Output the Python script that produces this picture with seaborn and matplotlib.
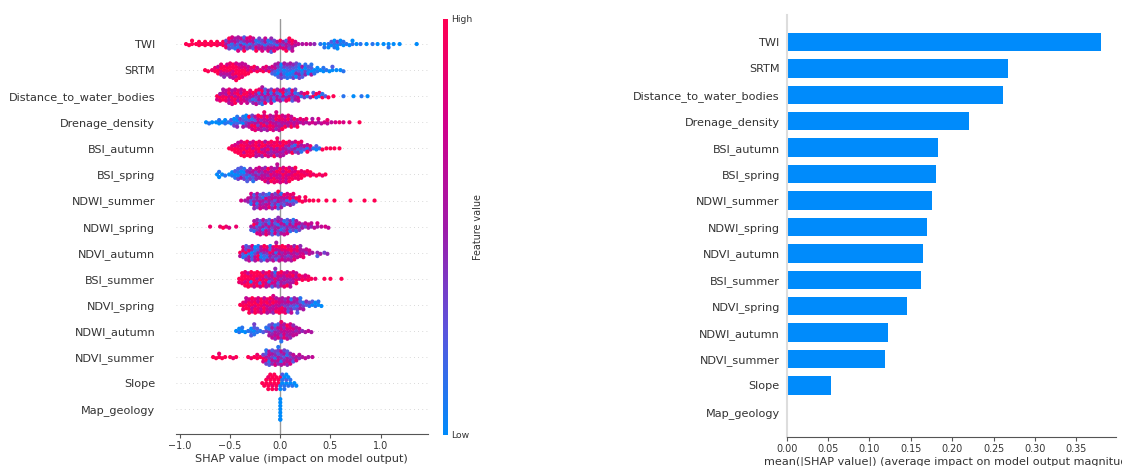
import numpy as np
import pandas as pd
import matplotlib
matplotlib.use("Agg")
import matplotlib.pyplot as plt
from matplotlib.colors import LinearSegmentedColormap, Normalize
import seaborn as sns
import warnings

warnings.filterwarnings("ignore")

features = [
    "TWI", "SRTM", "Distance_to_water_bodies", "Drenage_density", "BSI_autumn",
    "BSI_spring", "NDWI_summer", "NDWI_spring", "NDVI_autumn", "BSI_summer",
    "NDVI_spring", "NDWI_autumn", "NDVI_summer", "Slope", "Map_geology",
]

# mean(|SHAP|) per feature
mean_abs_shap = [0.380, 0.267, 0.261, 0.220, 0.183, 0.181, 0.176, 0.169,
                 0.165, 0.162, 0.145, 0.123, 0.119, 0.054, 0.0]

# beeswarm columns: (shap value, feature values of the points at that shap value)
# each digit is one point, 0 = low feature value (blue) ... 9 = high (red)
twi = [
    (-0.94, "9"), (-0.91, "9"), (-0.88, "99"), (-0.84, "9"), (-0.81, "99"), (-0.78, "9"),
    (-0.75, "99"), (-0.72, "9"), (-0.69, "99"), (-0.66, "9"), (-0.63, "99"), (-0.60, "8"),
    (-0.57, "99"), (-0.54, "538"), (-0.51, "2639"), (-0.48, "1527"), (-0.45, "3615"),
    (-0.42, "24157"), (-0.39, "5236"), (-0.36, "14629"), (-0.33, "2537"), (-0.30, "1648"),
    (-0.27, "3526"), (-0.24, "2719"), (-0.21, "4153"), (-0.18, "2637"), (-0.15, "1546"),
    (-0.12, "2517"), (-0.09, "31642"), (-0.06, "2538"), (-0.03, "156"), (0.00, "479"),
    (0.03, "358"), (0.06, "5629"), (0.09, "4739"), (0.12, "8596"), (0.15, "57"), (0.18, "6"),
    (0.22, "5"), (0.26, "6"), (0.30, "5"), (0.34, "4"), (0.40, "1"), (0.44, "01"),
    (0.48, "10"), (0.51, "02"), (0.54, "101"), (0.57, "030"), (0.60, "10"), (0.63, "01"),
    (0.66, "1"), (0.69, "0"), (0.72, "10"), (0.76, "0"), (0.80, "1"), (0.86, "0"),
    (0.92, "1"), (0.97, "0"), (1.03, "0"), (1.08, "01"), (1.13, "0"), (1.19, "0"), (1.36, "0"),
]
srtm = [
    (-0.75, "9"), (-0.72, "9"), (-0.68, "8"), (-0.65, "98"), (-0.62, "969"), (-0.59, "7958"),
    (-0.56, "9694"), (-0.53, "8957"), (-0.50, "96958"), (-0.47, "79896"), (-0.44, "999679"),
    (-0.41, "98969"), (-0.38, "99786"), (-0.35, "9896"), (-0.32, "796"), (-0.29, "98"),
    (-0.26, "79"), (-0.23, "96"), (-0.20, "8"), (-0.17, "97"), (-0.14, "68"), (-0.11, "95"),
    (-0.08, "472"), (-0.05, "2615"), (-0.02, "13052"), (0.01, "21403"), (0.04, "03152"),
    (0.07, "12041"), (0.10, "20315"), (0.13, "02143"), (0.16, "14203"), (0.19, "20413"),
    (0.22, "0152"), (0.25, "3041"), (0.28, "102"), (0.31, "0251"), (0.34, "01"), (0.37, "10"),
    (0.40, "0"), (0.43, "01"), (0.46, "1"), (0.49, "0"), (0.52, "02"), (0.56, "0"),
    (0.60, "0"), (0.63, "1"),
]
dist_water = [
    (-0.63, "97"), (-0.60, "958"), (-0.57, "8695"), (-0.54, "9586"), (-0.51, "79685"),
    (-0.48, "96857"), (-0.45, "58969"), (-0.42, "7958"), (-0.39, "95867"), (-0.36, "6978"),
    (-0.33, "8596"), (-0.30, "5738"), (-0.27, "6194"), (-0.24, "35296"), (-0.21, "41583"),
    (-0.18, "263915"), (-0.15, "51428"), (-0.12, "3625"), (-0.09, "41537"), (-0.06, "2519"),
    (-0.03, "5264"), (0.00, "3158"), (0.03, "6927"), (0.06, "4183"), (0.09, "5291"),
    (0.12, "3628"), (0.15, "4153"), (0.18, "726"), (0.21, "15"), (0.24, "38"), (0.27, "19"),
    (0.30, "4"), (0.33, "92"), (0.36, "19"), (0.39, "08"), (0.42, "91"), (0.45, "2"),
    (0.48, "9"), (0.53, "9"), (0.63, "1"), (0.73, "0"), (0.81, "1"), (0.87, "0"),
]
drainage = [
    (-0.74, "0"), (-0.71, "1"), (-0.68, "0"), (-0.64, "0"), (-0.61, "01"), (-0.58, "0"),
    (-0.55, "10"), (-0.52, "1"), (-0.49, "02"), (-0.46, "103"), (-0.43, "2041"), (-0.40, "13"),
    (-0.37, "0251"), (-0.34, "3140"), (-0.31, "5269"), (-0.28, "41937"), (-0.25, "62958"),
    (-0.22, "57396"), (-0.19, "84695"), (-0.16, "569748"), (-0.13, "46795"), (-0.10, "75968"),
    (-0.07, "64857"), (-0.04, "596847"), (-0.01, "47596"), (0.02, "68579"), (0.05, "5796"),
    (0.08, "6958"), (0.11, "7596"), (0.14, "586"), (0.17, "769"), (0.20, "58"), (0.23, "67"),
    (0.26, "58"), (0.29, "6"), (0.32, "75"), (0.35, "6"), (0.38, "57"), (0.41, "6"),
    (0.44, "7"), (0.47, "68"), (0.51, "6"), (0.55, "7"), (0.59, "8"), (0.63, "7"),
    (0.69, "8"), (0.79, "9"),
]
bsi_autumn = [
    (-0.51, "9"), (-0.48, "98"), (-0.45, "979"), (-0.42, "9896"), (-0.39, "89979"),
    (-0.36, "99689"), (-0.33, "79899"), (-0.30, "98969"), (-0.27, "69897"), (-0.24, "89695"),
    (-0.21, "97986"), (-0.18, "59894"), (-0.15, "69758"), (-0.12, "96587"), (-0.09, "58495"),
    (-0.06, "79589"), (-0.03, "596948"), (0.00, "89576"), (0.03, "69495"), (0.06, "5479"),
    (0.09, "3658"), (0.12, "4295"), (0.15, "5137"), (0.18, "2649"), (0.21, "3518"),
    (0.24, "26"), (0.27, "159"), (0.30, "48"), (0.33, "1"), (0.36, "02"), (0.39, "1"),
    (0.42, "9"), (0.46, "9"), (0.50, "9"), (0.54, "9"), (0.59, "9"),
]
bsi_spring = [
    (-0.63, "0"), (-0.61, "01"), (-0.58, "0"), (-0.55, "1"), (-0.51, "0"), (-0.48, "10"),
    (-0.45, "021"), (-0.42, "0132"), (-0.39, "1052"), (-0.36, "2031"), (-0.33, "3142"),
    (-0.30, "1534"), (-0.27, "4261"), (-0.24, "5346"), (-0.21, "3657"), (-0.18, "6475"),
    (-0.15, "57648"), (-0.12, "46795"), (-0.09, "85769"), (-0.06, "67958"), (-0.03, "796586"),
    (0.00, "58697"), (0.03, "96878"), (0.06, "78696"), (0.09, "69879"), (0.12, "8796"),
    (0.15, "9789"), (0.18, "898"), (0.21, "989"), (0.24, "98"), (0.27, "89"), (0.30, "99"),
    (0.33, "8"), (0.36, "9"), (0.39, "9"), (0.42, "8"), (0.45, "9"),
]
ndwi_summer = [
    (-0.39, "7"), (-0.35, "5"), (-0.32, "46"), (-0.29, "2517"), (-0.26, "53624"),
    (-0.23, "45163"), (-0.20, "63527"), (-0.17, "51436"), (-0.14, "37625"), (-0.11, "54618"),
    (-0.08, "36254"), (-0.05, "25437"), (-0.02, "561429"), (0.01, "46315"), (0.04, "3528"),
    (0.07, "1647"), (0.10, "2958"), (0.13, "1538"), (0.16, "29"), (0.19, "98"), (0.22, "9"),
    (0.25, "89"), (0.29, "9"), (0.33, "9"), (0.38, "9"), (0.46, "9"), (0.54, "9"),
    (0.70, "9"), (0.84, "9"), (0.94, "9"),
]
ndwi_spring = [
    (-0.70, "8"), (-0.60, "8"), (-0.57, "9"), (-0.54, "8"), (-0.51, "7"), (-0.44, "8"),
    (-0.29, "52"), (-0.26, "4915"), (-0.23, "26374"), (-0.20, "41527"), (-0.17, "53164"),
    (-0.14, "25738"), (-0.11, "61425"), (-0.08, "35162"), (-0.05, "42537"), (-0.02, "513624"),
    (0.01, "36145"), (0.04, "25316"), (0.07, "41527"), (0.10, "3614"), (0.13, "5231"),
    (0.16, "4715"), (0.19, "263"), (0.22, "54"), (0.25, "36"), (0.28, "57"), (0.31, "46"),
    (0.34, "6"), (0.37, "57"), (0.41, "6"), (0.45, "7"), (0.48, "6"),
]
ndvi_autumn = [
    (-0.40, "95"), (-0.37, "2817"), (-0.34, "93142"), (-0.31, "18536"), (-0.28, "04172"),
    (-0.25, "31605"), (-0.22, "52918"), (-0.19, "15063"), (-0.16, "47291"), (-0.13, "36185"),
    (-0.10, "92514"), (-0.07, "58376"), (-0.04, "164925"), (-0.01, "75386"), (0.02, "48597"),
    (0.05, "67495"), (0.08, "58376"), (0.11, "69485"), (0.14, "57648"), (0.17, "4869"),
    (0.20, "6574"), (0.23, "758"), (0.26, "46"), (0.29, "67"), (0.32, "5"), (0.37, "42"),
    (0.40, "5"), (0.44, "3"), (0.47, "4"),
]
bsi_summer = [
    (-0.41, "98"), (-0.38, "9989"), (-0.35, "99798"), (-0.32, "89969"), (-0.29, "98199"),
    (-0.26, "99896"), (-0.23, "69899"), (-0.20, "98297"), (-0.17, "79869"), (-0.14, "94785"),
    (-0.11, "58196"), (-0.08, "46752"), (-0.05, "837154"), (-0.02, "56283"), (0.01, "47596"),
    (0.04, "65478"), (0.07, "58469"), (0.10, "47586"), (0.13, "6957"), (0.16, "8596"),
    (0.19, "79"), (0.22, "98"), (0.25, "87"), (0.28, "98"), (0.31, "9"), (0.35, "8"),
    (0.44, "9"), (0.50, "9"), (0.61, "9"),
]
ndvi_spring = [
    (-0.40, "9"), (-0.37, "988"), (-0.34, "9796"), (-0.31, "89979"), (-0.28, "98696"),
    (-0.25, "79989"), (-0.22, "96878"), (-0.19, "89697"), (-0.16, "78969"), (-0.13, "69785"),
    (-0.10, "87596"), (-0.07, "596847"), (-0.04, "68759"), (-0.01, "57869"), (0.02, "46958"),
    (0.05, "35748"), (0.08, "47362"), (0.11, "25416"), (0.14, "3524"), (0.17, "14352"),
    (0.20, "4251"), (0.23, "315"), (0.26, "24"), (0.29, "13"), (0.32, "02"), (0.35, "10"),
    (0.38, "01"), (0.41, "0"),
]
ndwi_autumn = [
    (-0.44, "0"), (-0.41, "10"), (-0.38, "01"), (-0.35, "0"), (-0.32, "1"), (-0.29, "102"),
    (-0.26, "0213"), (-0.23, "12"), (-0.20, "1"), (-0.17, "2"), (-0.14, "31"), (-0.11, "4152"),
    (-0.08, "25436"), (-0.05, "53614"), (-0.02, "46527"), (0.01, "5736481"), (0.04, "64758"),
    (0.07, "57496"), (0.10, "65847"), (0.13, "5764"), (0.16, "465"), (0.19, "56"),
    (0.22, "4"), (0.25, "5"), (0.28, "6"), (0.31, "5"),
]
ndvi_summer = [
    (-0.67, "9"), (-0.64, "9"), (-0.61, "98"), (-0.58, "9"), (-0.55, "9"), (-0.50, "9"),
    (-0.47, "8"), (-0.44, "9"), (-0.32, "9"), (-0.29, "8"), (-0.26, "9"), (-0.23, "98"),
    (-0.20, "9"), (-0.17, "937"), (-0.14, "52813"), (-0.11, "46152"), (-0.08, "35624"),
    (-0.05, "14537"), (-0.02, "526341"), (0.01, "43165"), (0.04, "25436"), (0.07, "51624"),
    (0.10, "3547"), (0.13, "462"), (0.16, "57"), (0.19, "46"), (0.22, "5"), (0.25, "6"),
    (0.28, "5"), (0.32, "6"),
]
slope = [
    (-0.18, "9"), (-0.16, "9"), (-0.14, "99"), (-0.12, "989"), (-0.10, "999"),
    (-0.08, "899"), (-0.06, "999"), (-0.04, "998"), (-0.02, "99"), (0.00, "190"),
    (0.02, "012"), (0.04, "101"), (0.06, "020"), (0.08, "10"), (0.10, "01"),
    (0.12, "1"), (0.14, "0"), (0.16, "0"),
]
map_geology = [(0.0, "00000000")]

swarm_columns = [twi, srtm, dist_water, drainage, bsi_autumn, bsi_spring, ndwi_summer,
                 ndwi_spring, ndvi_autumn, bsi_summer, ndvi_spring, ndwi_autumn,
                 ndvi_summer, slope, map_geology]

rows = []
for name, cols in zip(features, swarm_columns):
    for x, digits in cols:
        for d in digits:
            rows.append((name, x, int(d) / 9))
swarm_df = pd.DataFrame(rows, columns=["feature", "shap", "value"])
bar_df = pd.DataFrame({"feature": features, "mean_abs": mean_abs_shap})

cmap = LinearSegmentedColormap.from_list(
    "shap_red_blue", ["#008bfb", "#5b55dd", "#a01aa8", "#d1008b", "#ff0052"])

sns.set_style("white")
plt.rcParams["font.family"] = ["DejaVu Sans"]
text_col = "#333333"

W, H = 1122, 466
fig = plt.figure(figsize=(W / 100, H / 100), dpi=100)


def fig_rect(x0, y0, x1, y1):
    return [x0 / W, 1 - y1 / H, (x1 - x0) / W, (y1 - y0) / H]


# left: beeswarm
ax1 = fig.add_axes(fig_rect(176, 19, 427.7, 434))
for i in range(len(features)):
    ax1.axhline(i, color="#cccccc", lw=0.6, dashes=(1, 4), zorder=0)
ax1.axvline(0, color="#999999", lw=1.0, zorder=1)
sns.swarmplot(data=swarm_df, x="shap", y="feature", hue="value", order=features,
              palette=cmap, hue_norm=(0, 1), size=2.3, linewidth=0, legend=False,
              orient="h", ax=ax1, zorder=3)
ax1.set_xlim(-1.04, 1.47)
ax1.set_ylim(14.95, -0.96)
ax1.set_xticks([-1.0, -0.5, 0.0, 0.5, 1.0])
ax1.set_xlabel("SHAP value (impact on model output)", fontsize=8.1, color=text_col, labelpad=2)
ax1.set_ylabel("")
for s in ["top", "right", "left"]:
    ax1.spines[s].set_visible(False)
ax1.spines["bottom"].set_color("#555555")
ax1.tick_params(axis="y", length=0, pad=15, labelsize=8.1, labelcolor=text_col)
ax1.tick_params(axis="x", length=3, width=0.8, color="#555555", labelsize=6.9,
                labelcolor=text_col, pad=2, bottom=True)

# lay the swarm out once with small dots, then freeze it and draw the dots
# a bit bigger so they overlap like shap's beeswarm
fig.canvas.draw()
for coll in ax1.collections:
    if "draw" in coll.__dict__:
        del coll.draw
    coll.set_sizes([3.0 ** 2])

# colour bar
cax = fig.add_axes(fig_rect(442.7, 19, 448, 435))
sm = plt.cm.ScalarMappable(norm=Normalize(0, 1), cmap=cmap)
cb = fig.colorbar(sm, cax=cax, ticks=[0, 1])
cb.outline.set_visible(False)
cax.set_yticklabels(["Low", "High"])
cax.tick_params(length=0, labelsize=6.7, pad=2, labelcolor=text_col)
cb.set_label("Feature value", fontsize=6.9, color=text_col, labelpad=1)

# right: mean |SHAP| bars
ax2 = fig.add_axes(fig_rect(786.7, 15, 1116, 437))
sns.barplot(data=bar_df, x="mean_abs", y="feature", order=features, color="#008bfb",
            width=0.7, linewidth=0, saturation=1, orient="h", ax=ax2)
ax2.set_xlim(0, 0.398)
ax2.set_ylim(14.95, -1.02)
ax2.set_xticks([0.0, 0.05, 0.10, 0.15, 0.20, 0.25, 0.30, 0.35])
ax2.set_xticklabels(["0.00", "0.05", "0.10", "0.15", "0.20", "0.25", "0.30", "0.35"])
ax2.set_xlabel("mean(|SHAP value|) (average impact on model output magnitude)",
               fontsize=8.1, color=text_col, labelpad=2)
ax2.set_ylabel("")
for s in ["top", "right"]:
    ax2.spines[s].set_visible(False)
ax2.spines["left"].set_color("#dddddd")
ax2.spines["left"].set_linewidth(1.5)
ax2.spines["bottom"].set_color("#555555")
ax2.tick_params(axis="y", length=0, pad=5, labelsize=8.1, labelcolor=text_col)
ax2.tick_params(axis="x", length=3, width=0.8, color="#555555", labelsize=6.9,
                labelcolor=text_col, pad=2, bottom=True)

fig.savefig("out.png", dpi=100)
